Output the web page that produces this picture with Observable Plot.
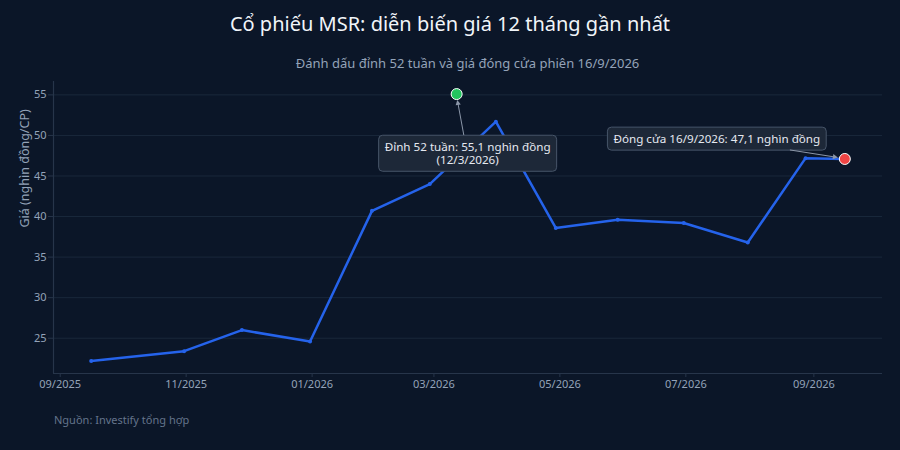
<!DOCTYPE html>
<html>
<head>
<meta charset="utf-8">
<script src="https://cdn.jsdelivr.net/npm/d3@7"></script>
<script src="https://cdn.jsdelivr.net/npm/@observablehq/plot@0.6"></script>
<style>
html,body{margin:0;padding:0;background:#0b1628;width:900px;height:450px;overflow:hidden;font-family:"Noto Sans",sans-serif;}
.hd{position:absolute;white-space:nowrap;line-height:1.362;}
#title{left:0;top:10px;width:900px;text-align:center;color:#f1f5f9;font-size:20px;}
#subtitle{left:53px;top:55px;width:829px;text-align:center;color:#94a3b8;font-size:13px;}
#chart{position:absolute;left:0;top:70px;}
#caption{left:54px;top:412.5px;color:#64748b;font-size:11px;}
</style>
</head>
<body>
<div id="title" class="hd">Cổ phiếu MSR: diễn biến giá 12 tháng gần nhất</div>
<div id="subtitle" class="hd">Đánh dấu đỉnh 52 tuần và giá đóng cửa phiên 16/9/2026</div>
<div id="chart"></div>
<div id="caption" class="hd">Nguồn: Investify tổng hợp</div>
<script>
// ---- data ----
const dates = ["2025-09-16","2025-10-31","2025-11-28","2025-12-31","2026-01-30","2026-02-27","2026-03-31","2026-04-29","2026-05-29","2026-06-30","2026-07-31","2026-08-28","2026-09-16"];
const prices = [22.2, 23.4, 26.0, 24.6, 40.7, 44.0, 51.7, 38.6, 39.6, 39.2, 36.8, 47.2, 47.1];
const peakDate = "2026-03-12";
const peakValue = 55.1;
const closeDate = "2026-09-16";
const closeValue = 47.1;
const peakText = "Đỉnh 52 tuần: 55,1 nghìn đồng\n(12/3/2026)";
const closeText = "Đóng cửa 16/9/2026: 47,1 nghìn đồng";
const yTicks = [25, 30, 35, 40, 45, 50, 55];
const xTickDates = ["2025-09-01","2025-11-01","2026-01-01","2026-03-01","2026-05-01","2026-07-01","2026-09-01"];
const yLabel = "Giá (nghìn đồng/CP)";

const data = dates.map((d, i) => ({date: new Date(d), price: prices[i]}));
const peak = [{date: new Date(peakDate), price: peakValue}];
const close = [{date: new Date(closeDate), price: closeValue}];

const xDomain = [new Date("2025-08-28T18:00Z"), new Date("2026-10-04T06:00Z")];
const yDomain = [20.65, 56.65];
const axisColor = "#27354a";
const gridColor = "#1a283b";
const tickText = "#94a3b8";
const annots = [
  {rows: peak, text: peakText, dx: 11, dy: 59.5},
  {rows: close, text: closeText, dx: -128, dy: -20}
];

const plot = Plot.plot({
  width: 900, height: 340,
  marginTop: 11, marginBottom: 37, marginLeft: 53, marginRight: 18,
  style: {background: "transparent", color: tickText, fontFamily: "Noto Sans", fontSize: "11px", overflow: "visible"},
  x: {type: "utc", domain: xDomain},
  y: {domain: yDomain},
  marks: [
    Plot.gridY(yTicks, {stroke: gridColor, strokeOpacity: 1}),
    Plot.ruleY([yDomain[0]], {stroke: axisColor, strokeWidth: 1.2}),
    Plot.ruleX([xDomain[0]], {stroke: axisColor, strokeWidth: 1.2}),
    Plot.axisY(yTicks, {tickSize: 5, tickPadding: 2, stroke: axisColor, fill: tickText, label: null}),
    Plot.axisX(xTickDates.map(d => new Date(d)), {tickSize: 4, tickPadding: 3, stroke: axisColor, fill: tickText, tickFormat: d3.utcFormat("%m/%Y"), label: null}),
    Plot.text([yLabel], {frameAnchor: "left", rotate: -90, dx: -29, fontSize: 12.5, fill: tickText}),
    Plot.line(data, {x: "date", y: "price", stroke: "#2563eb", strokeWidth: 2.5}),
    Plot.dot(data, {x: "date", y: "price", r: 2, fill: "#2563eb"}),
    ...annots.map(a => Plot.text(a.rows, {x: "date", y: "price", text: () => a.text, dx: a.dx, dy: a.dy, fontSize: 11.65, fill: "#e5e9f0", lineAnchor: "middle", textAnchor: "middle", lineHeight: 1.12})),
    Plot.dot(peak, {x: "date", y: "price", r: 5.5, fill: "#22c55e", stroke: "#ffffff", strokeWidth: 1}),
    Plot.dot(close, {x: "date", y: "price", r: 5.5, fill: "#ef4444", stroke: "#ffffff", strokeWidth: 1})
  ]
});
document.getElementById("chart").append(plot);

const xs = plot.scale("x"), ys = plot.scale("y");
const svgNS = "http://www.w3.org/2000/svg";
const arrowLayer = document.createElementNS(svgNS, "g");
const dotGroups = plot.querySelectorAll("g[aria-label='dot']");
plot.insertBefore(arrowLayer, dotGroups[dotGroups.length - 2]);

const allTexts = Array.from(plot.querySelectorAll("text"));
annots.forEach(a => {
  const firstLine = a.text.split("\n")[0];
  const t = allTexts.find(el => el.textContent.startsWith(firstLine));
  if (!t) return;
  const bb = t.getBBox();
  const padX = 6, padY = 4;
  const rect = document.createElementNS(svgNS, "rect");
  rect.setAttribute("x", bb.x - padX);
  rect.setAttribute("y", bb.y - padY);
  rect.setAttribute("width", bb.width + 2 * padX);
  rect.setAttribute("height", bb.height + 2 * padY);
  rect.setAttribute("rx", 4);
  rect.setAttribute("fill", "#1d2838");
  rect.setAttribute("fill-opacity", 1);
  rect.setAttribute("stroke", "#475569");
  rect.setAttribute("stroke-width", 1);
  if (t.getAttribute("transform")) rect.setAttribute("transform", t.getAttribute("transform"));
  t.parentNode.insertBefore(rect, t);
  // arrow from box edge to the point
  const px = xs.apply(a.rows[0].date), py = ys.apply(a.rows[0].price);
  const cx = px + a.dx, cy = py + a.dy;
  const hw = bb.width / 2 + padX, hh = bb.height / 2 + padY;
  const vx = px - cx, vy = py - cy;
  const t0 = Math.min(vx ? hw / Math.abs(vx) : Infinity, vy ? hh / Math.abs(vy) : Infinity);
  const sx = cx + vx * t0, sy = cy + vy * t0;
  const len = Math.hypot(vx, vy);
  const ux = vx / len, uy = vy / len;
  const ex = px - ux * 6.5, ey = py - uy * 6.5;
  const line = document.createElementNS(svgNS, "line");
  line.setAttribute("x1", sx); line.setAttribute("y1", sy);
  line.setAttribute("x2", ex - ux * 3); line.setAttribute("y2", ey - uy * 3);
  line.setAttribute("stroke", "#8b96a8"); line.setAttribute("stroke-width", 1);
  arrowLayer.appendChild(line);
  const hs = 5, hwid = 2.6;
  const bx = ex - ux * hs, by = ey - uy * hs;
  const head = document.createElementNS(svgNS, "path");
  head.setAttribute("d", `M${ex},${ey}L${bx - uy * hwid},${by + ux * hwid}L${bx + uy * hwid},${by - ux * hwid}Z`);
  head.setAttribute("fill", "#8b96a8");
  arrowLayer.appendChild(head);
});
</script>
</body>
</html>
